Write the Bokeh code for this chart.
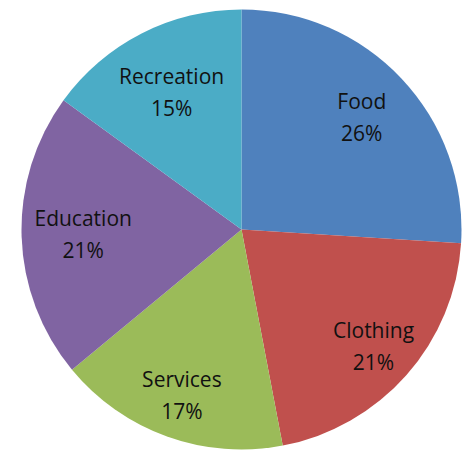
import numpy as np
from bokeh.plotting import figure
from bokeh.models import Range1d, ColumnDataSource
from bokeh.core.properties import value
from bokeh.embed import file_html
from bokeh.resources import INLINE

categories = ["Food", "Clothing", "Services", "Education", "Recreation"]
shares = [26, 21, 17, 21, 15]
colors = ["#4F81BD", "#C0504D", "#9BBB59", "#8064A2", "#4BACC6"]

W, H = 463, 451
cx, cy, R = 241, H - 229, 220

frac = np.array(shares, dtype=float) / sum(shares)
cum = np.concatenate([[0], np.cumsum(frac)])
start = np.pi / 2 - 2 * np.pi * cum[:-1]
end = np.pi / 2 - 2 * np.pi * cum[1:]
mid = (start + end) / 2
lab_r = R * np.array([0.75, 0.80, 0.80, 0.72, 0.70])
lx = cx + lab_r * np.cos(mid)
ly = cy + lab_r * np.sin(mid)

src = ColumnDataSource(dict(
    cat=categories,
    pct=[f"{s}%" for s in shares],
    start=start, end=end, color=colors,
    lx=lx, ly_top=ly + 16, ly_bot=ly - 16,
))

p = figure(width=W, height=H, x_range=Range1d(0, W), y_range=Range1d(0, H),
           output_backend="svg", toolbar_location=None, min_border=0)
p.axis.visible = False
p.grid.visible = False
p.outline_line_color = None
p.background_fill_color = "white"

p.wedge(x=cx, y=cy, radius=R, start_angle="start", end_angle="end",
        direction="clock", fill_color="color", line_color=None, source=src)

for col, txt in (("ly_top", "cat"), ("ly_bot", "pct")):
    p.text(x="lx", y=col, text=txt, source=src, text_align="center",
           text_baseline="middle", text_font=value("Open Sans"),
           text_font_size="21px", text_color="#111111")

open("out.html", "w").write(file_html(p, INLINE))
